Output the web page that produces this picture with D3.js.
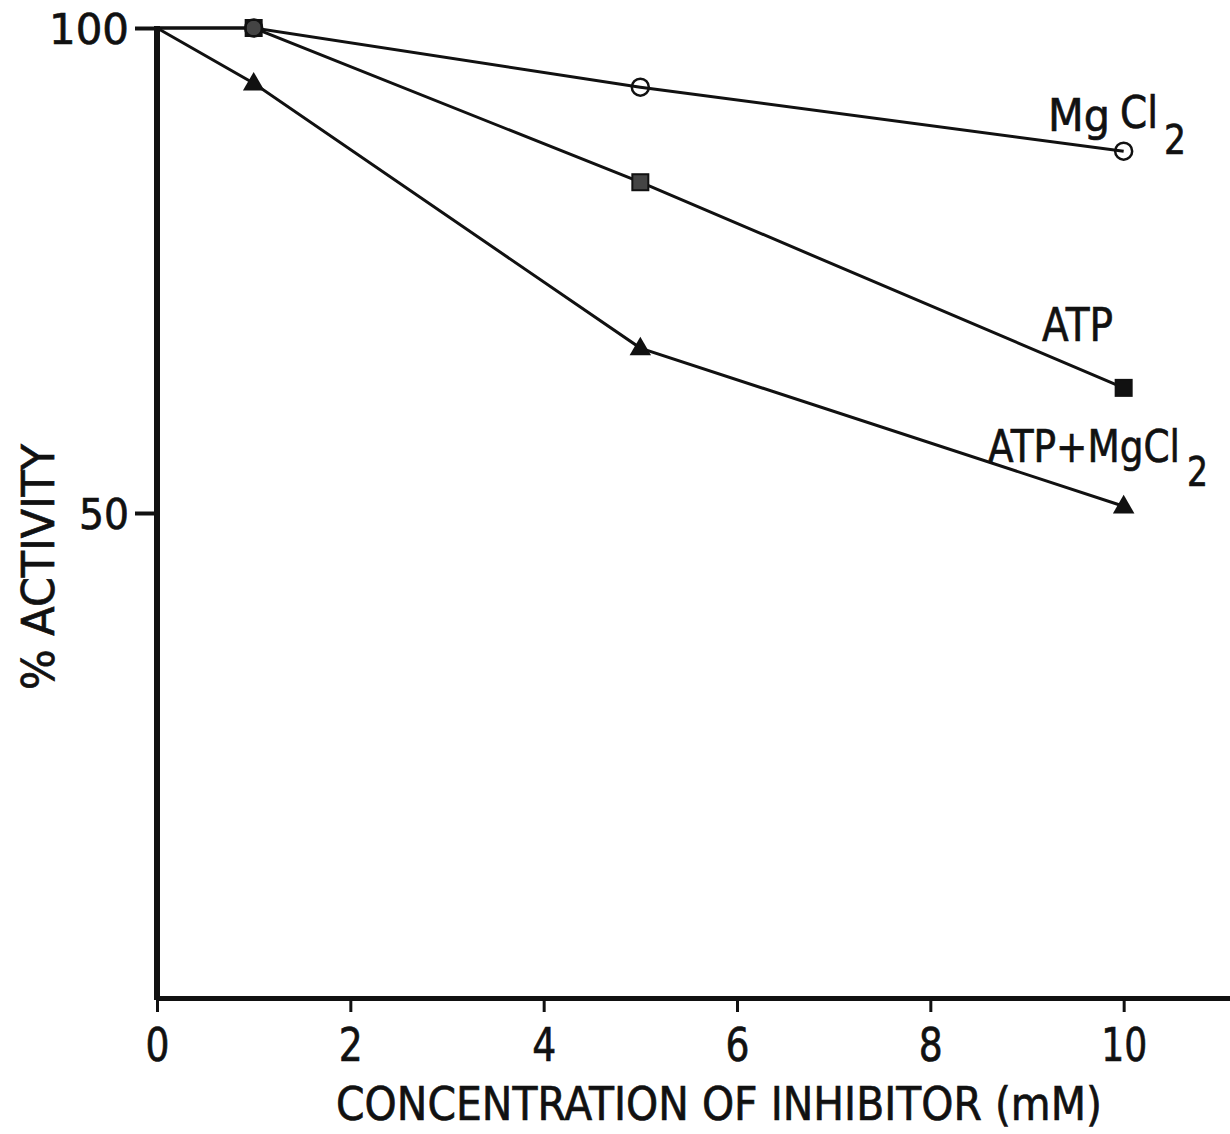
<!DOCTYPE html>
<html>
<head>
<meta charset="utf-8">
<script src="https://cdn.jsdelivr.net/npm/d3@7/dist/d3.min.js"></script>
<style>
  html, body { margin: 0; padding: 0; background: #fff; }
  svg { display: block; }
  text { font-family: "DejaVu Sans", sans-serif; fill: #111; stroke: #111; stroke-width: 0.7px; }
</style>
</head>
<body>
<svg id="chart" width="1230" height="1134"></svg>
<script>
// Inhibitor concentration (mM) and % activity for each treatment
const concentrations = [0, 1, 5, 10];
const mgcl2Activity = [100, 100, 93.9, 87.3];
const atpActivity = [100, 100, 84.1, 62.9];
const atpMgcl2Activity = [100, 94.3, 67.0, 50.7];

const xTicks = [0, 2, 4, 6, 8, 10];
const yTicks = [50, 100];

const svg = d3.select("#chart");
svg.append("rect").attr("width", 1230).attr("height", 1134).attr("fill", "#fff");

const x = d3.scaleLinear().domain([0, 11.1]).range([157, 1230]);
const y = d3.scaleLinear().domain([0, 100]).range([998, 28]);

// Axes
const xAxis = svg.append("g")
  .attr("transform", `translate(0,${y(0)})`)
  .call(d3.axisBottom(x).tickValues(xTicks).tickSize(14).tickPadding(16).tickSizeOuter(0));
xAxis.select(".domain").attr("stroke", "#111").attr("stroke-width", 5);
xAxis.selectAll(".tick line").attr("stroke", "#111").attr("stroke-width", 3);
xAxis.selectAll(".tick text")
  .attr("font-size", 46).attr("fill", "#111")
  .attr("font-family", "DejaVu Sans, sans-serif")
  .attr("textLength", d => d === 10 ? 46 : 24)
  .attr("lengthAdjust", "spacingAndGlyphs");

const yAxis = svg.append("g")
  .attr("transform", `translate(${x(0)},0)`)
  .call(d3.axisLeft(y).tickValues(yTicks).tickSize(22).tickPadding(6).tickSizeOuter(0));
yAxis.select(".domain").remove();
yAxis.selectAll(".tick line").attr("stroke", "#111").attr("stroke-width", 4);
yAxis.selectAll(".tick text")
  .attr("font-size", 43).attr("fill", "#111")
  .attr("font-family", "DejaVu Sans, sans-serif")
  .attr("dy", "0.36em")
  .attr("textLength", d => d === 100 ? 80 : 50)
  .attr("lengthAdjust", "spacingAndGlyphs");
svg.append("line")
  .attr("x1", x(0)).attr("x2", x(0))
  .attr("y1", y(100) - 2).attr("y2", y(0) + 2)
  .attr("stroke", "#111").attr("stroke-width", 6);

// Axis titles
svg.append("text")
  .attr("x", 336).attr("y", 1120)
  .attr("font-size", 47)
  .attr("textLength", 766).attr("lengthAdjust", "spacingAndGlyphs")
  .text("CONCENTRATION OF INHIBITOR (mM)");

svg.append("text")
  .attr("transform", "translate(54,690) rotate(-90)")
  .attr("font-size", 45)
  .attr("textLength", 246).attr("lengthAdjust", "spacingAndGlyphs")
  .text("% ACTIVITY");

// Series lines and markers
const series = [
  { name: "MgCl2", values: mgcl2Activity, marker: "circle" },
  { name: "ATP", values: atpActivity, marker: "square" },
  { name: "ATP+MgCl2", values: atpMgcl2Activity, marker: "triangle" }
];

const line = d3.line().x(d => x(d[0])).y(d => y(d[1]));

series.forEach(s => {
  const pts = concentrations.map((c, i) => [c, s.values[i]]);
  svg.append("path")
    .attr("d", line(pts))
    .attr("fill", "none").attr("stroke", "#111").attr("stroke-width", 3);
});

// Markers drawn after lines; the square sits under the open circle at 1 mM
const markerOrder = [series[1], series[2], series[0]];
markerOrder.forEach(s => {
  const pts = concentrations.map((c, i) => [c, s.values[i]]).slice(1);
  const g = svg.append("g");
  if (s.marker === "circle") {
    g.selectAll("circle").data(pts).join("circle")
      .attr("cx", d => x(d[0])).attr("cy", d => y(d[1])).attr("r", 8.5)
      .attr("fill", "none").attr("stroke", "#111").attr("stroke-width", 2.5);
  } else if (s.marker === "square") {
    g.selectAll("rect").data(pts).join("rect")
      .attr("x", d => x(d[0]) - 8).attr("y", d => y(d[1]) - 8)
      .attr("width", 16).attr("height", 16)
      .attr("fill", (d, i) => i === pts.length - 1 ? "#111" : "#444")
      .attr("stroke", "#111").attr("stroke-width", 2);
  } else {
    const tri = d3.symbol().type(d3.symbolTriangle).size(200);
    g.selectAll("path").data(pts).join("path")
      .attr("transform", d => `translate(${x(d[0])},${y(d[1]) + 1})`)
      .attr("d", tri).attr("fill", "#111");
  }
});

// Series labels: each piece is squeezed horizontally to a set width,
// formula subscripts are separate lowered pieces
function label(str, px, py, size, width) {
  const t = svg.append("text").attr("font-size", size).text(str);
  const natural = t.node().getComputedTextLength();
  t.attr("transform", `translate(${px},${py}) scale(${width / natural},1)`);
  return t;
}

label("Mg", 1048, 131, 45, 62);
label("Cl", 1120, 128, 45, 38);
label("2", 1164, 154, 40, 22);

label("ATP", 1042, 341, 46, 71);

label("ATP+MgCl", 988, 462, 45, 192);
label("2", 1187, 486, 40, 21);
</script>
</body>
</html>
